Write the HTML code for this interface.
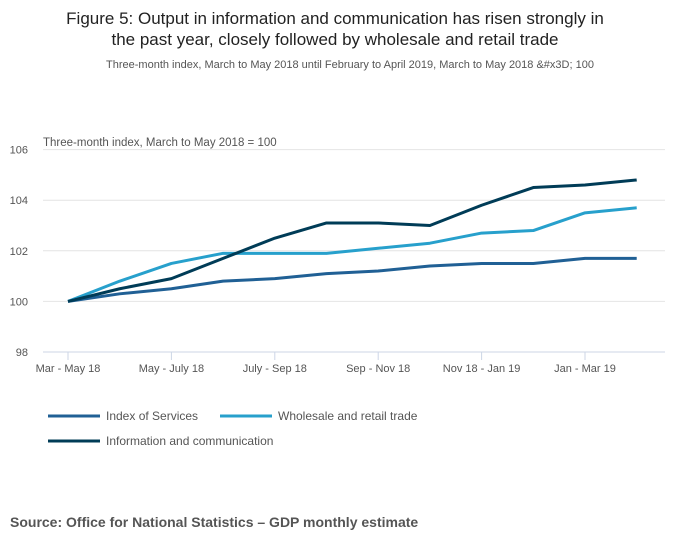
<!DOCTYPE html>
<html><head><meta charset="utf-8"><style>
body{margin:0;background:#fff;font-family:"Liberation Sans",sans-serif;}
</style></head><body>
<svg width="700" height="549" xmlns="http://www.w3.org/2000/svg" style="font-family:'Liberation Sans',sans-serif">
<text x="335" y="24" text-anchor="middle" font-size="17" fill="#222">Figure 5: Output in information and communication has risen strongly in</text>
<text x="335" y="45" text-anchor="middle" font-size="17" fill="#222">the past year, closely followed by wholesale and retail trade</text>
<text x="350" y="68" text-anchor="middle" font-size="11" fill="#555">Three-month index, March to May 2018 until February to April 2019, March to May 2018 &amp;#x3D; 100</text>
<text x="43" y="146" font-size="11.5" fill="#555">Three-month index, March to May 2018 = 100</text>
<g id="grid"></g><g id="series"></g>
<g font-size="12" fill="#555">
<line x1="48" y1="416" x2="100" y2="416" stroke="#206095" stroke-width="3"/><text x="106" y="420">Index of Services</text>
<line x1="220" y1="416" x2="272" y2="416" stroke="#27a0cc" stroke-width="3"/><text x="278" y="420">Wholesale and retail trade</text>
<line x1="48" y1="441" x2="100" y2="441" stroke="#003c57" stroke-width="3"/><text x="106" y="445">Information and communication</text>
</g>
<text x="10" y="527" font-size="14" font-weight="bold" fill="#555">Source: Office for National Statistics – GDP monthly estimate</text>
</svg>
<script>
const categories=["Mar - May 18","Apr - Jun 18","May - July 18","Jun - Aug 18","July - Sep 18","Aug - Oct 18","Sep - Nov 18","Oct - Dec 18","Nov 18 - Jan 19","Dec 18 - Feb 19","Jan - Mar 19","Feb - Apr 19"];
const services=[100.0,100.3,100.5,100.8,100.9,101.1,101.2,101.4,101.5,101.5,101.7,101.7];
const wholesale=[100.0,100.8,101.5,101.9,101.9,101.9,102.1,102.3,102.7,102.8,103.5,103.7];
const info=[100.0,100.5,100.9,101.7,102.5,103.1,103.1,103.0,103.8,104.5,104.6,104.8];
const yTicks=[98,100,102,104,106];
const NS="http://www.w3.org/2000/svg";
const x=i=>68+i*51.7;
const y=v=>352-(v-98)*25.3;
const grid=document.getElementById('grid');
function mk(t,a,p){const e=document.createElementNS(NS,t);for(const k in a)e.setAttribute(k,a[k]);p.appendChild(e);return e;}
yTicks.forEach(v=>{
 const l=mk('line',{x1:43,x2:665,y1:y(v),y2:y(v),stroke:v===98?'#ccd6e6':'#e4e4e4','stroke-width':1},grid);
 
 
 const t=mk('text',{x:28,y:y(v)+4,'font-size':11,fill:'#555','text-anchor':'end'},grid);t.textContent=v;
 
 
});
categories.forEach((c,i)=>{
 if(i%2)return;
 mk('line',{x1:x(i),x2:x(i),y1:352,y2:360,stroke:'#ccd6e6'},grid);
 const t=mk('text',{x:x(i),y:372,'font-size':11,fill:'#555','text-anchor':'middle'},grid);t.textContent=c;
 
 
});
const sg=document.getElementById('series');
[[services,'#206095','services-line'],[wholesale,'#27a0cc','wholesale-line'],[info,'#003c57','info-line']].forEach(([d,c,n])=>{
 const p=mk('polyline',{points:d.map((v,i)=>x(i)+','+y(v)).join(' '),fill:'none',stroke:c,'stroke-width':3,'stroke-linejoin':'round'},sg);
 
 
});
</script>
</body></html>
